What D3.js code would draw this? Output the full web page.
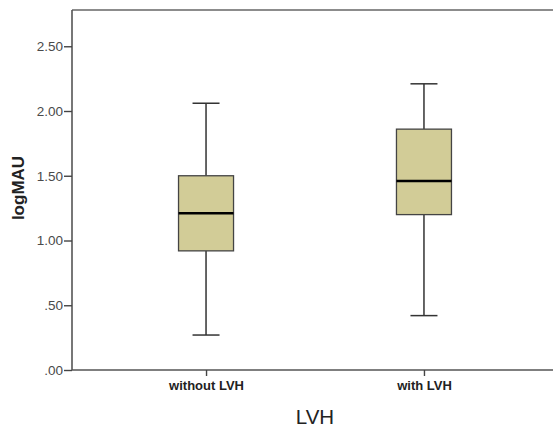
<!DOCTYPE html>
<html>
<head>
<meta charset="utf-8">
<script src="https://cdn.jsdelivr.net/npm/d3@7"></script>
<style>
  body { margin: 0; background: #fff; }
  text { font-family: "Liberation Sans", Arial, sans-serif; }
</style>
</head>
<body>
<svg width="553" height="427"></svg>
<script>
// box plot summary per group
var groups = ["without LVH", "with LVH"];
var whiskerLow = [0.27, 0.42];
var q1 = [0.92, 1.20];
var medians = [1.21, 1.46];
var q3 = [1.50, 1.86];
var whiskerHigh = [2.06, 2.21];
var yTicks = [0, 0.5, 1, 1.5, 2, 2.5];

var svg = d3.select("svg");
var plotLeft = 72, plotRight = 558, plotTop = 10, plotBottom = 370;

var x = d3.scalePoint().domain(groups).range([plotLeft, plotRight]).padding(0.615);
var y = d3.scaleLinear().domain([0, 2.78]).range([plotBottom, plotTop]);

var fmt = function (v) { return d3.format(".2f")(v).replace(/^0/, ""); };

// frame
svg.append("line")
    .attr("x1", plotLeft).attr("x2", plotRight + 10)
    .attr("y1", plotTop).attr("y2", plotTop)
    .attr("stroke", "#666").attr("stroke-width", 1.6);

var yAxis = svg.append("g")
    .attr("transform", "translate(" + plotLeft + ",0)")
    .call(d3.axisLeft(y).tickValues(yTicks).tickFormat(fmt).tickSize(8).tickPadding(1));
yAxis.select(".domain").attr("d", "M0," + plotTop + "V" + plotBottom);

var xAxis = svg.append("g")
    .attr("transform", "translate(0," + plotBottom + ")")
    .call(d3.axisBottom(x).tickSize(6).tickPadding(5));
xAxis.select(".domain").attr("d", "M" + plotLeft + ",0H" + (plotRight + 10));

svg.selectAll(".domain").attr("stroke", "#555").attr("stroke-width", 1.6);
svg.selectAll(".tick line").attr("stroke", "#444").attr("stroke-width", 1.4);
yAxis.selectAll("text").attr("font-size", 13.5).attr("fill", "#4a4a4a");
xAxis.selectAll("text").attr("font-size", 13).attr("font-weight", "bold").attr("fill", "#222");

// boxes
var boxW = 55, capW = 27;
var data = groups.map(function (g, i) {
    return { g: g, lo: whiskerLow[i], q1: q1[i], med: medians[i], q3: q3[i], hi: whiskerHigh[i] };
});
var box = svg.append("g").selectAll("g").data(data).enter().append("g");

box.append("line")
    .attr("x1", d => x(d.g)).attr("x2", d => x(d.g))
    .attr("y1", d => y(d.hi)).attr("y2", d => y(d.q3))
    .attr("stroke", "#333").attr("stroke-width", 1.5);
box.append("line")
    .attr("x1", d => x(d.g)).attr("x2", d => x(d.g))
    .attr("y1", d => y(d.q1)).attr("y2", d => y(d.lo))
    .attr("stroke", "#333").attr("stroke-width", 1.5);
box.append("line")
    .attr("x1", d => x(d.g) - capW / 2).attr("x2", d => x(d.g) + capW / 2)
    .attr("y1", d => y(d.hi)).attr("y2", d => y(d.hi))
    .attr("stroke", "#333").attr("stroke-width", 1.5);
box.append("line")
    .attr("x1", d => x(d.g) - capW / 2).attr("x2", d => x(d.g) + capW / 2)
    .attr("y1", d => y(d.lo)).attr("y2", d => y(d.lo))
    .attr("stroke", "#333").attr("stroke-width", 1.5);
box.append("rect")
    .attr("x", d => x(d.g) - boxW / 2)
    .attr("y", d => y(d.q3))
    .attr("width", boxW)
    .attr("height", d => y(d.q1) - y(d.q3))
    .attr("fill", "#d2cc97")
    .attr("stroke", "#444").attr("stroke-width", 1.3);
box.append("line")
    .attr("x1", d => x(d.g) - boxW / 2).attr("x2", d => x(d.g) + boxW / 2)
    .attr("y1", d => y(d.med)).attr("y2", d => y(d.med))
    .attr("stroke", "#000").attr("stroke-width", 2.4);

// axis titles
svg.append("text")
    .attr("transform", "translate(24,188) rotate(-90)")
    .attr("text-anchor", "middle")
    .attr("font-size", 17).attr("font-weight", "bold").attr("fill", "#222")
    .text("logMAU");
svg.append("text")
    .attr("x", (plotLeft + plotRight) / 2).attr("y", 424)
    .attr("text-anchor", "middle")
    .attr("font-size", 20.5).attr("fill", "#222")
    .text("LVH");
</script>
</body>
</html>
